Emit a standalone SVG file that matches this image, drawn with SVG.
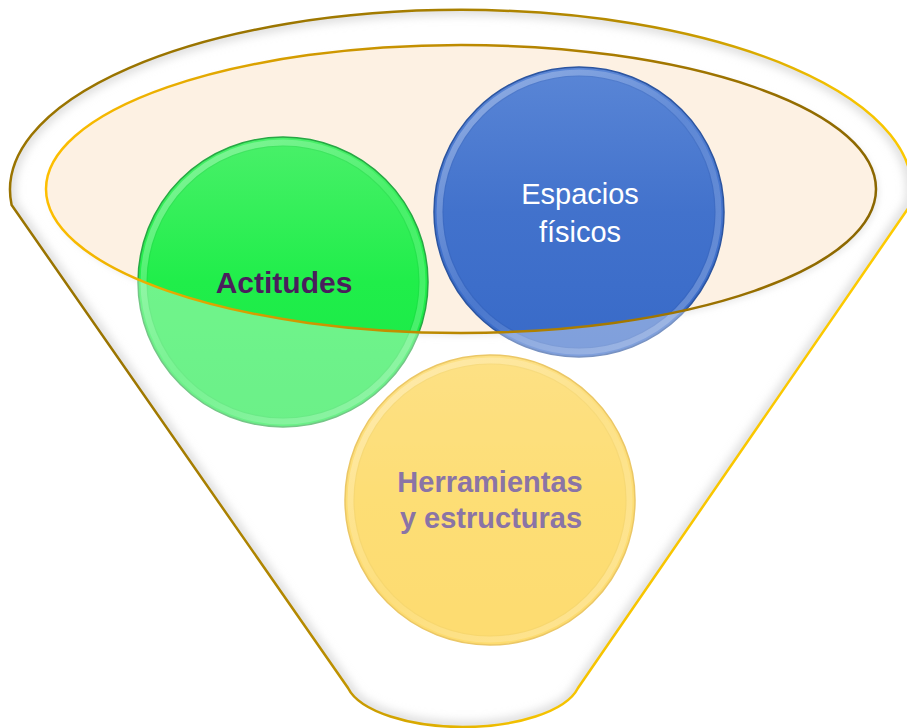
<svg xmlns="http://www.w3.org/2000/svg" width="907" height="728" viewBox="0 0 907 728">
  <defs>
    <style>
      .lbl{font-family:"Liberation Sans","Arial",sans-serif;text-anchor:middle}
      .bold{font-weight:bold}
    </style>
    <linearGradient id="outerStroke" gradientUnits="userSpaceOnUse" x1="200" y1="150" x2="800" y2="450">
      <stop offset="0" stop-color="#9a7400"/>
      <stop offset="0.5" stop-color="#b88c00"/>
      <stop offset="0.8" stop-color="#f2c000"/>
      <stop offset="1" stop-color="#ffcc00"/>
    </linearGradient>
    <linearGradient id="innerStroke" gradientUnits="userSpaceOnUse" x1="40" y1="150" x2="880" y2="250">
      <stop offset="0" stop-color="#ffc000"/>
      <stop offset="0.3" stop-color="#d29a00"/>
      <stop offset="0.7" stop-color="#a47800"/>
      <stop offset="1" stop-color="#8a6600"/>
    </linearGradient>
    <linearGradient id="gGreen" x1="0" y1="0" x2="0" y2="1">
      <stop offset="0" stop-color="#4af06a"/>
      <stop offset="0.5" stop-color="#20ee4a"/>
      <stop offset="1" stop-color="#18e846"/>
    </linearGradient>
    <linearGradient id="gBlue" x1="0" y1="0" x2="0" y2="1">
      <stop offset="0" stop-color="#5a86d6"/>
      <stop offset="0.5" stop-color="#4272cc"/>
      <stop offset="1" stop-color="#386ac8"/>
    </linearGradient>
    <linearGradient id="gYellow" x1="0" y1="0" x2="0" y2="1">
      <stop offset="0" stop-color="#fcd040"/>
      <stop offset="0.5" stop-color="#fccb28"/>
      <stop offset="1" stop-color="#fcc820"/>
    </linearGradient>
    <linearGradient id="bevel" x1="0.15" y1="0.1" x2="0.85" y2="0.9">
      <stop offset="0" stop-color="#ffffff" stop-opacity="0.3"/>
      <stop offset="0.5" stop-color="#ffffff" stop-opacity="0.08"/>
      <stop offset="1" stop-color="#ffffff" stop-opacity="0.22"/>
    </linearGradient>
    <clipPath id="funnelClip">
      <path d="M 11.6,205 A 451 180 0 1 1 910.4,205 L 578,688 C 566,712 515,727 463,727 C 411,727 360,712 348,688 Z"/>
    </clipPath>
    <filter id="blur4" x="-10%" y="-10%" width="120%" height="120%">
      <feGaussianBlur stdDeviation="4"/>
    </filter>
    <filter id="blur3" x="-10%" y="-10%" width="120%" height="120%">
      <feGaussianBlur stdDeviation="3"/>
    </filter>
  </defs>

  <rect width="907" height="728" fill="#ffffff"/>

  <g id="funnel">
    <path d="M 11.6,205 A 451 180 0 1 1 910.4,205 L 578,688 C 566,712 515,727 463,727 C 411,727 360,712 348,688 Z" fill="#ffffff"/>
    <g clip-path="url(#funnelClip)">
      <path d="M 11.6,205 A 451 180 0 1 1 910.4,205 L 578,688 C 566,712 515,727 463,727 C 411,727 360,712 348,688 Z" fill="none" stroke="#cfcfcf" stroke-width="12" filter="url(#blur4)"/>
    </g>
    <path d="M 46,189 A 415 144 0 1 0 876,189 A 415 144 0 1 0 46,189 Z" fill="#e0e0e0" filter="url(#blur3)" transform="translate(3,3)"/>
    <path d="M 46,189 A 415 144 0 1 0 876,189 A 415 144 0 1 0 46,189 Z" fill="#fdf1e3"/>
  </g>

  <g id="node-actitudes">
    <circle cx="283" cy="282" r="145" fill="url(#gGreen)" stroke="#27a844" stroke-width="1.5"/>
    <circle cx="283" cy="282" r="139.5" fill="none" stroke="url(#bevel)" stroke-width="6"/>
    <circle cx="283" cy="282" r="136" fill="none" stroke="#0a8a2a" stroke-opacity="0.1" stroke-width="1.2"/>
  </g>

  <g id="node-espacios">
    <circle cx="579" cy="212" r="145" fill="url(#gBlue)" stroke="#2c55a0" stroke-width="1.5"/>
    <circle cx="579" cy="212" r="139.5" fill="none" stroke="url(#bevel)" stroke-width="6"/>
    <circle cx="579" cy="212" r="136" fill="none" stroke="#1d3f88" stroke-opacity="0.12" stroke-width="1.2"/>
  </g>

  <g id="node-herramientas">
    <circle cx="490" cy="500" r="145" fill="url(#gYellow)" stroke="#e0a810" stroke-width="1.5"/>
    <circle cx="490" cy="500" r="139.5" fill="none" stroke="url(#bevel)" stroke-width="6"/>
    <circle cx="490" cy="500" r="136" fill="none" stroke="#b88a00" stroke-opacity="0.12" stroke-width="1.2"/>
  </g>

  <g id="funnel-overlay">
    <path fill-rule="evenodd" fill="#ffffff" fill-opacity="0.36" d="M 11.6,205 A 451 180 0 1 1 910.4,205 L 578,688 C 566,712 515,727 463,727 C 411,727 360,712 348,688 Z M 46,189 A 415 144 0 1 0 876,189 A 415 144 0 1 0 46,189 Z"/>
    <path d="M 46,189 A 415 144 0 1 0 876,189 A 415 144 0 1 0 46,189 Z" fill="none" stroke="url(#innerStroke)" stroke-width="2.5"/>
    <path d="M 11.6,205 A 451 180 0 1 1 910.4,205 L 578,688 C 566,712 515,727 463,727 C 411,727 360,712 348,688 Z" fill="none" stroke="url(#outerStroke)" stroke-width="2.5"/>
  </g>

  <g id="labels">
    <text class="lbl bold" x="284" y="293" font-size="30" fill="#4a1e5c">Actitudes</text>
    <text class="lbl" x="580" y="204" font-size="29" fill="#ffffff">Espacios</text>
    <text class="lbl" x="580" y="242" font-size="29" fill="#ffffff">físicos</text>
    <text class="lbl bold" x="490" y="492" font-size="29" fill="#8a74a6">Herramientas</text>
    <text class="lbl bold" x="491" y="528" font-size="29" fill="#8a74a6">y estructuras</text>
  </g>
</svg>
